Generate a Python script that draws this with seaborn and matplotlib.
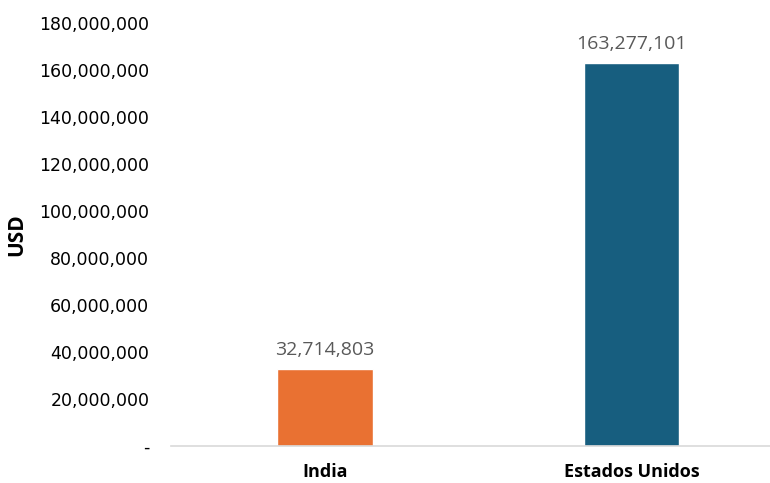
import matplotlib
matplotlib.use("Agg")
import matplotlib.pyplot as plt
import seaborn as sns
import pandas as pd

# Data
countries = ["India", "Estados Unidos"]
values_usd = [32714803, 163277101]
bar_colors = ["#E97132", "#175E7F"]
y_ticks = [0, 20000000, 40000000, 60000000, 80000000, 100000000,
           120000000, 140000000, 160000000, 180000000]

df = pd.DataFrame({"country": countries, "usd": values_usd})

sns.set_theme(style="white")
plt.rcParams["font.family"] = ["DejaVu Sans"]

fig = plt.figure(figsize=(7.7, 4.83), dpi=100)
ax = fig.add_axes([0.2227, 0.0766, 0.7773, 0.875])

sns.barplot(data=df, x="country", y="usd", hue="country",
            palette=bar_colors, width=0.31, saturation=1,
            legend=False, ax=ax)

ax.set_xlim(-0.5, 1.45)
ax.set_ylim(0, 180000000)
ax.set_yticks(y_ticks)
ax.set_yticklabels(["-" if v == 0 else f"{v:,}" for v in y_ticks],
                   fontsize=12.5, color="#000000")
ax.tick_params(axis="y", length=0, pad=16)
ax.tick_params(axis="x", length=0, pad=12)
for lbl in ax.get_xticklabels():
    lbl.set_fontfamily("Open Sans")
    lbl.set_fontweight("bold")
    lbl.set_fontsize(13)
    lbl.set_color("#000000")

ax.set_xlabel("")
ax.set_ylabel("USD", fontsize=15, fontweight="bold", fontfamily="Open Sans",
              color="#000000")
ax.yaxis.set_label_coords(-0.241, 0.5)

for side in ["top", "right", "left"]:
    ax.spines[side].set_visible(False)
ax.spines["bottom"].set_color("#D9D9D9")
ax.spines["bottom"].set_linewidth(1.2)

for container in ax.containers:
    ax.bar_label(container, labels=[f"{v:,.0f}" for v in container.datavalues],
                 padding=7, fontsize=14, color="#595959",
                 fontfamily="Open Sans")

fig.savefig("out.png", dpi=100)
